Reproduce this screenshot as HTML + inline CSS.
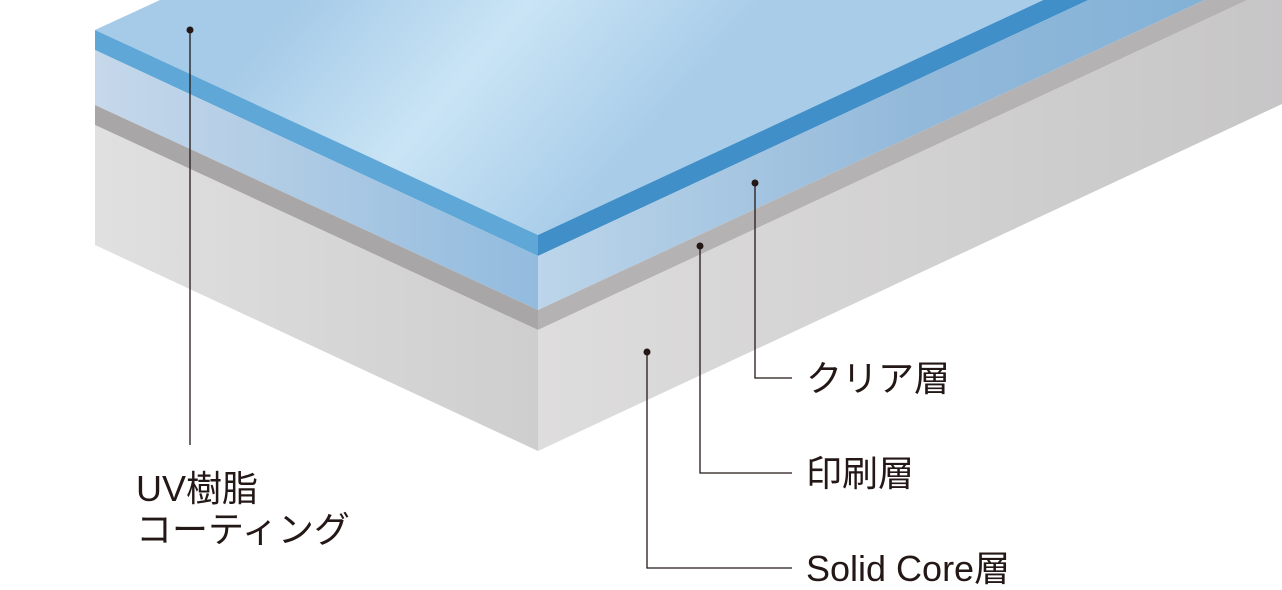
<!DOCTYPE html>
<html><head><meta charset="utf-8"><style>
html,body{margin:0;padding:0;background:#fff;width:1282px;height:590px;overflow:hidden}
svg{display:block}
text{font-family:"Liberation Sans","Noto Sans CJK JP",sans-serif;font-size:36px;fill:#231815}
</style></head><body>
<svg width="1282" height="590" viewBox="0 0 1282 590" xmlns="http://www.w3.org/2000/svg">
<defs>
<linearGradient id="top" x1="300" y1="0" x2="560" y2="230" gradientUnits="userSpaceOnUse">
<stop offset="0" stop-color="#a6cbe8"/><stop offset="0.5" stop-color="#c9e4f5"/><stop offset="1" stop-color="#a9cde9"/>
</linearGradient>
<linearGradient id="lclear" x1="95" y1="0" x2="538" y2="0" gradientUnits="userSpaceOnUse">
<stop offset="0" stop-color="#c6d8ea"/><stop offset="1" stop-color="#92bbde"/>
</linearGradient>
<linearGradient id="rclear" x1="538" y1="0" x2="1282" y2="0" gradientUnits="userSpaceOnUse">
<stop offset="0" stop-color="#bcd5ea"/><stop offset="0.5" stop-color="#93b9da"/><stop offset="1" stop-color="#7eb0d6"/>
</linearGradient>
<linearGradient id="lcore" x1="95" y1="0" x2="538" y2="0" gradientUnits="userSpaceOnUse">
<stop offset="0" stop-color="#e0e0e0"/><stop offset="1" stop-color="#cfcecf"/>
</linearGradient>
<linearGradient id="rcore" x1="538" y1="0" x2="1282" y2="0" gradientUnits="userSpaceOnUse">
<stop offset="0" stop-color="#dedddd"/><stop offset="1" stop-color="#c7c6c7"/>
</linearGradient>
</defs>
<polygon points="95,30 160,0 1282,0 1282,-111 538,235" fill="url(#top)"/>
<polygon points="95,30 538,235 538,256 95,50" fill="#5fa7d7"/>
<polygon points="95,50 538,256 538,310 95,105" fill="url(#lclear)"/>
<polygon points="95,105 538,310 538,330 95,125" fill="#a9a6a8"/>
<polygon points="95,125 538,330 538,451 95,245" fill="url(#lcore)"/>
<polygon points="538,235 1282,-111 1282,-90 538,256" fill="#418fc8"/>
<polygon points="538,256 1282,-90 1282,-36 538,310" fill="url(#rclear)"/>
<polygon points="538,310 1282,-36 1282,-16 538,330" fill="#b5b2b3"/>
<polygon points="538,330 1282,-16 1282,104 538,451" fill="url(#rcore)"/>
<g stroke="#231815" stroke-width="1.3" fill="none">
<path d="M190,30 V445"/>
<path d="M755,183 V378 H792"/>
<path d="M700,246 V473 H792"/>
<path d="M647,352 V568 H792"/>
</g>
<g fill="#231815">
<circle cx="190" cy="30" r="3.5"/>
<circle cx="755" cy="183" r="3.5"/>
<circle cx="700" cy="246" r="3.5"/>
<circle cx="647" cy="352" r="3.5"/>
</g>
<text x="136" y="501">UV樹脂</text>
<text x="136" y="542">コーティング</text>
<text x="806" y="391">クリア層</text>
<text x="806" y="486">印刷層</text>
<text x="806" y="581">Solid Core層</text>
</svg>
</body></html>
